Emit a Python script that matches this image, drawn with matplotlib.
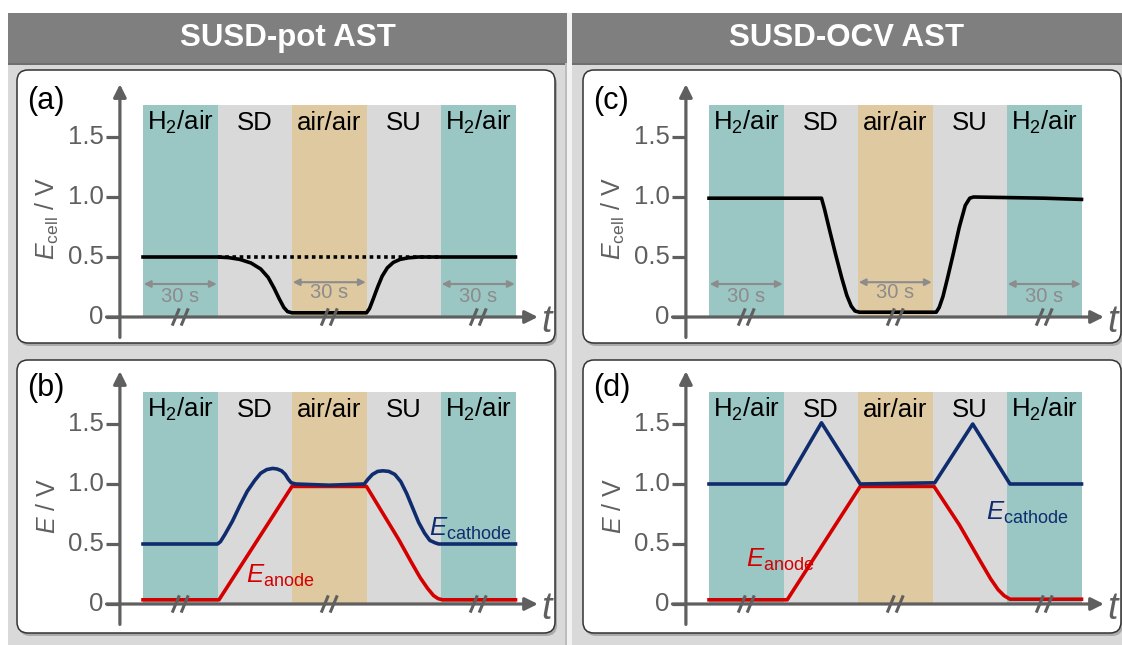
import matplotlib
matplotlib.use('Agg')
import matplotlib.pyplot as plt
from matplotlib.patches import FancyBboxPatch, Rectangle

plt.rcParams['font.family'] = ['Liberation Sans', 'DejaVu Sans']
plt.rcParams['mathtext.fontset'] = 'custom'
plt.rcParams['mathtext.rm'] = 'Liberation Sans'
plt.rcParams['mathtext.it'] = 'Liberation Sans:italic'

W, H = 1122, 645

# phases (one unit of time per phase)
phases = ['H$_2$/air', 'SD', 'air/air', 'SU', 'H$_2$/air']
phase_colors = ['#9ac6c3', '#d9d9d9', '#dfc9a0', '#d9d9d9', '#9ac6c3']
yticks = [0, 0.5, 1.0, 1.5]
ytick_labels = ['0', '0.5', '1.0', '1.5']
headers = ['SUSD-pot AST', 'SUSD-OCV AST']

# (a) cell voltage, SUSD-pot
a_x = [0, 1.0, 1.15, 1.3, 1.45, 1.58, 1.68, 1.76, 1.83, 1.89, 1.94, 2.0, 3.0, 3.04, 3.09, 3.15, 3.21, 3.28, 3.36, 3.45, 3.56, 3.7, 4.0, 5.0]
a_y = [0.5, 0.5, 0.495, 0.48, 0.45, 0.4, 0.33, 0.24, 0.15, 0.08, 0.045, 0.035, 0.035, 0.07, 0.15, 0.25, 0.34, 0.41, 0.455, 0.48, 0.493, 0.5, 0.5, 0.5]
a_ref_x = [1.0, 4.0]
a_ref_y = [0.5, 0.5]

# (b) electrode potentials, SUSD-pot
b_cat_x = [0, 1.0, 1.04, 1.1, 1.2, 1.3, 1.4, 1.5, 1.58, 1.66, 1.74, 1.8, 1.86, 1.91, 1.95, 1.99, 2.05, 2.5, 2.97, 3.02, 3.08, 3.15, 3.22, 3.3, 3.38, 3.46, 3.54, 3.62, 3.7, 3.78, 3.85, 3.92, 3.97, 4.02, 5.0]
b_cat_y = [0.5, 0.5, 0.52, 0.58, 0.69, 0.82, 0.94, 1.03, 1.09, 1.12, 1.13, 1.125, 1.11, 1.08, 1.04, 1.01, 1.0, 0.99, 1.0, 1.04, 1.08, 1.105, 1.11, 1.105, 1.08, 1.02, 0.92, 0.8, 0.68, 0.59, 0.53, 0.51, 0.5, 0.5, 0.5]
b_an_x = [0, 1.02, 2.0, 3.0, 3.43, 3.6, 3.72, 3.82, 3.9, 3.96, 4.02, 5.0]
b_an_y = [0.035, 0.035, 0.98, 0.98, 0.54, 0.35, 0.22, 0.13, 0.07, 0.045, 0.035, 0.035]

# (c) cell voltage, SUSD-OCV
c_x = [0, 1.51, 1.55, 1.62, 1.70, 1.78, 1.85, 1.91, 1.96, 2.02, 3.05, 3.09, 3.14, 3.2, 3.28, 3.36, 3.44, 3.5, 3.55, 4.5, 5.0]
c_y = [0.99, 0.99, 0.9, 0.72, 0.52, 0.33, 0.18, 0.09, 0.05, 0.04, 0.04, 0.08, 0.17, 0.32, 0.53, 0.75, 0.93, 0.99, 1.0, 0.99, 0.98]

# (d) electrode potentials, SUSD-OCV
d_cat_x = [0, 1.03, 1.51, 2.03, 3.03, 3.54, 4.04, 5.0]
d_cat_y = [1.0, 1.0, 1.51, 1.0, 1.01, 1.5, 1.0, 1.0]
d_an_x = [0, 1.05, 2.03, 3.02, 3.36, 3.62, 3.78, 3.88, 3.96, 4.04, 5.0]
d_an_y = [0.035, 0.035, 0.98, 0.98, 0.66, 0.38, 0.21, 0.12, 0.07, 0.04, 0.04]

AX_COL = '#5f5f5f'
NAVY = '#0f2d6e'
RED = '#d40000'
LW = 2.6

fig = plt.figure(figsize=(W / 100, H / 100), dpi=100)
bg = fig.add_axes([0, 0, 1, 1])
bg.set_xlim(0, W)
bg.set_ylim(H, 0)
bg.axis('off')

# column backgrounds and headers
for x0, x1, title in [(8, 567, headers[0]), (572, 1122, headers[1])]:
    bg.add_patch(Rectangle((x0, 13), x1 - x0, H - 13, color='#d9d9d9', lw=0))
    bg.add_patch(Rectangle((x0, 14), x1 - x0, 51, color='#6e6e6e', lw=0))
    bg.add_patch(Rectangle((x0, 13), x1 - x0, 50, color='#7f7f7f', lw=0))
    bg.text((x0 + x1) / 2, 38, title, color='white', fontsize=22.5, fontweight='bold',
            ha='center', va='center')
bg.add_patch(Rectangle((565, 63), 2, H, color='#bdbdbd', lw=0))
bg.add_patch(Rectangle((567, 13), 5, H, color='#f2f2f2', lw=0))

# panel boxes: left, top, right, bottom (px)
boxes = {'a': (17, 70, 555, 343), 'b': (17, 360, 555, 633),
         'c': (583, 70, 1121, 343), 'd': (583, 360, 1121, 633)}
for key, (l, t, r, b) in boxes.items():
    bg.add_patch(FancyBboxPatch((l + 2, t + 3), r - l, b - t, boxstyle='round,pad=0,rounding_size=11',
                                fc='#8a8a8a', ec='none', alpha=0.6))
    bg.add_patch(FancyBboxPatch((l, t), r - l, b - t, boxstyle='round,pad=0,rounding_size=11',
                                fc='white', ec='#333333', lw=1.1))

SX, SY = 74.5, 120.0  # px per phase, px per volt
origins = {'a': (143, 317), 'b': (143, 604), 'c': (709, 317), 'd': (709, 604)}


def make_axes(key):
    l, t, r, b = boxes[key]
    x0, y0 = origins[key]
    ax = fig.add_axes([l / W, 1 - b / H, (r - l) / W, (b - t) / H])
    ax.set_xlim((l - x0) / SX, (r - x0) / SX)
    ax.set_ylim((y0 - b) / SY, (y0 - t) / SY)
    ax.axis('off')
    return ax


def frame(ax, label, ylabel):
    top = 1.765
    ax.bar([i + 0.5 for i in range(5)], [top] * 5, width=1, bottom=0, color=phase_colors, zorder=0)
    for i, name in enumerate(phases):
        ax.text(i + 0.5, 1.62, name, fontsize=18.5, ha='center', va='center', color='black', zorder=5)
    # axes with arrows
    ax.annotate('', xy=(-0.31, 1.94), xytext=(-0.31, -0.17),
                arrowprops=dict(arrowstyle='-|>', color=AX_COL, lw=2.3, mutation_scale=19,
                                shrinkA=0, shrinkB=0), zorder=6)
    ax.annotate('', xy=(5.3, 0), xytext=(-0.49, 0),
                arrowprops=dict(arrowstyle='-|>', color=AX_COL, lw=2.3, mutation_scale=19,
                                shrinkA=0, shrinkB=0), zorder=6)
    for v, s in zip(yticks, ytick_labels):
        ax.plot([-0.49, -0.31], [v, v], color=AX_COL, lw=2.3, solid_capstyle='butt', zorder=6)
        ax.text(-0.53, v, s, fontsize=18.5, color=AX_COL, ha='right', va='center')
    # axis breaks
    for xc in [0.5, 2.5, 4.5]:
        for dx in [-0.06, 0.06]:
            ax.plot([xc + dx - 0.04, xc + dx + 0.04], [-0.06, 0.06], color=AX_COL, lw=2.2, zorder=7)
    ax.text(5.35, -0.04, 't', fontsize=27, style='italic', color=AX_COL, ha='left', va='center')
    ax.text(-1.56, 1.8, label, fontsize=22, color='black', ha='left', va='center')
    ax.text(-1.28, 0.82, ylabel, fontsize=18, color=AX_COL, rotation=90, ha='center', va='center')


def durations(ax, ys):
    for i, (ya, yt) in zip([0, 2, 4], ys):
        ax.annotate('', xy=(i + 0.01, ya), xytext=(i + 0.99, ya),
                    arrowprops=dict(arrowstyle='<|-|>', color='#8c8c8c', lw=1.5, mutation_scale=10,
                                    shrinkA=0, shrinkB=0), zorder=4)
        ax.text(i + 0.5, yt, '30 s', fontsize=14.5, color='#8c8c8c', ha='center', va='center', zorder=4)


ecell = '$E_{\\rm cell}$ / V'
e = '$E$ / V'

ax = make_axes('a')
frame(ax, '(a)', ecell)
durations(ax, [(0.275, 0.175), (0.29, 0.2), (0.275, 0.175)])
ax.plot(a_ref_x, a_ref_y, color='black', lw=LW, linestyle=(0, (1, 1)), zorder=3)
ax.plot(a_x, a_y, color='black', lw=LW, zorder=3)

ax = make_axes('b')
frame(ax, '(b)', e)
ax.plot(b_an_x, b_an_y, color=RED, lw=LW, zorder=3)
ax.plot(b_cat_x, b_cat_y, color=NAVY, lw=LW, zorder=3)
ax.text(3.84, 0.57, '$E_{\\rm cathode}$', fontsize=18.5, color=NAVY, ha='left', va='baseline')
ax.text(1.38, 0.18, '$E_{\\rm anode}$', fontsize=18.5, color=RED, ha='left', va='baseline')

ax = make_axes('c')
frame(ax, '(c)', ecell)
durations(ax, [(0.275, 0.175), (0.29, 0.2), (0.275, 0.175)])
ax.plot(c_x, c_y, color='black', lw=LW, zorder=3)

ax = make_axes('d')
frame(ax, '(d)', e)
ax.plot(d_an_x, d_an_y, color=RED, lw=LW, zorder=3)
ax.plot(d_cat_x, d_cat_y, color=NAVY, lw=LW, zorder=3)
ax.text(3.72, 0.7, '$E_{\\rm cathode}$', fontsize=18.5, color=NAVY, ha='left', va='baseline')
ax.text(0.49, 0.31, '$E_{\\rm anode}$', fontsize=18.5, color=RED, ha='left', va='baseline')

fig.savefig('out.png', dpi=100)
